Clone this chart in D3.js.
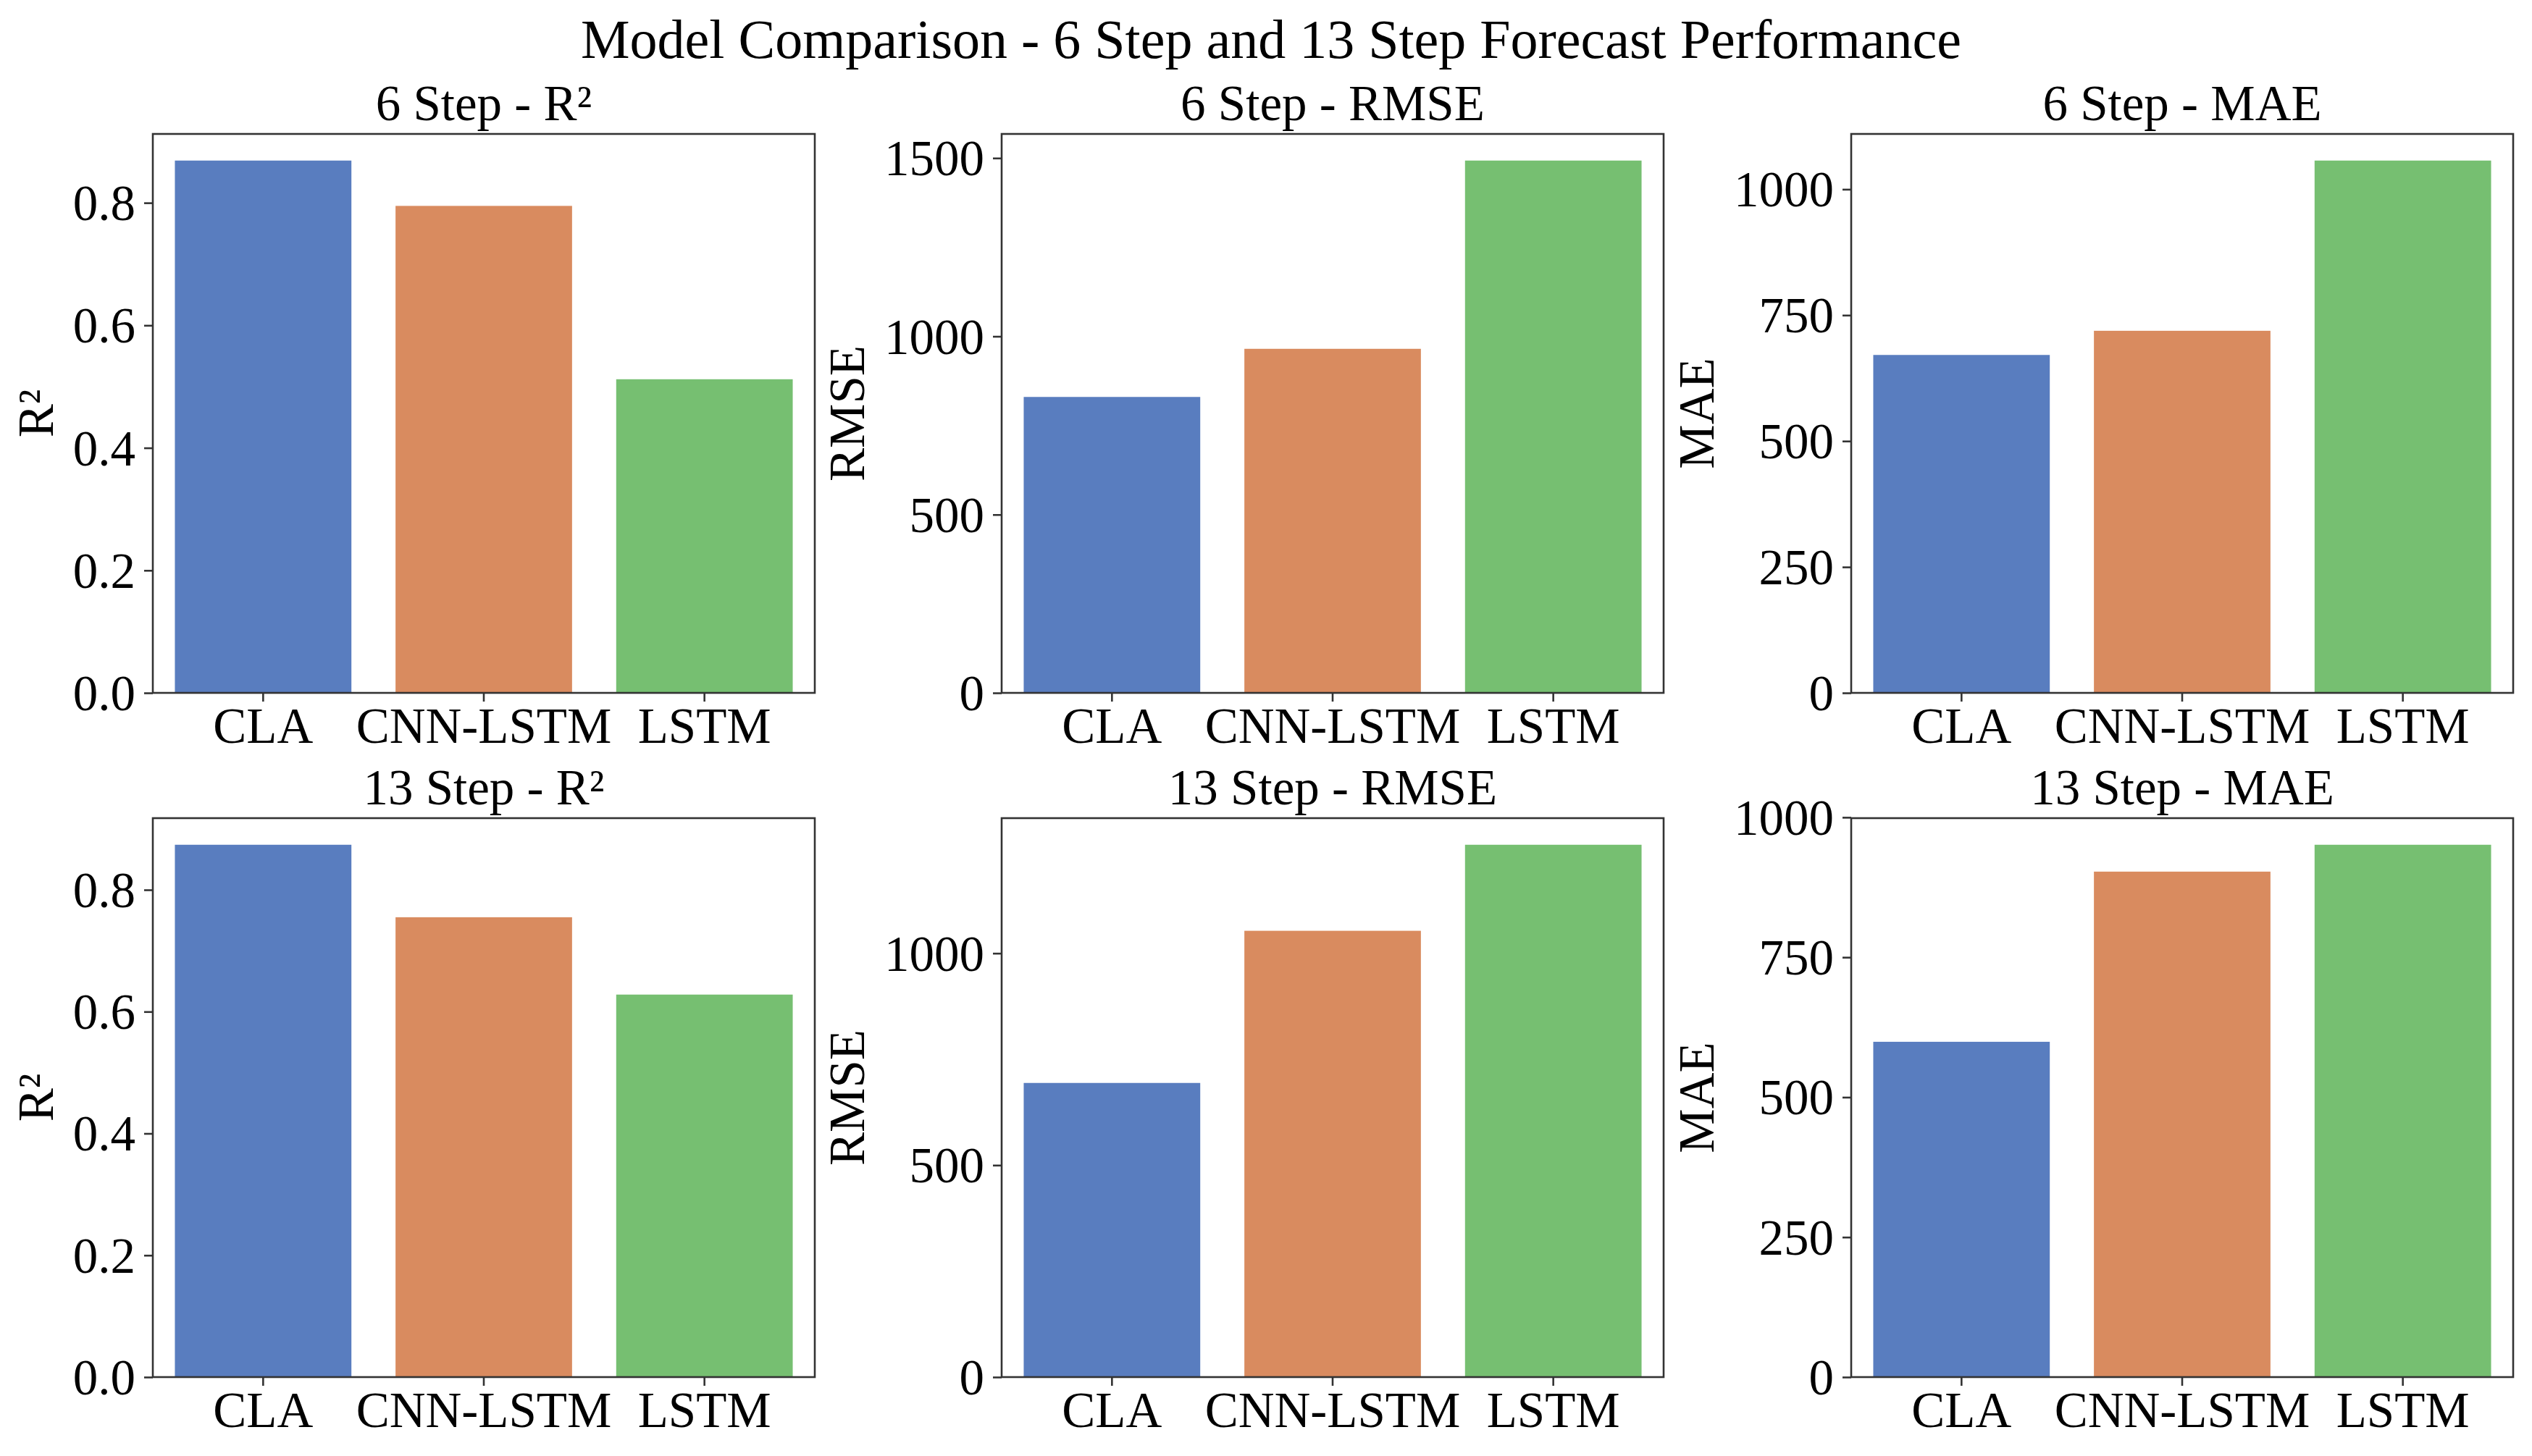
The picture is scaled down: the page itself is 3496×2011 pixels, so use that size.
<!DOCTYPE html>
<html lang="en">
<head>
<meta charset="UTF-8">
<title>Model Comparison</title>
<script src="https://cdn.jsdelivr.net/npm/d3@7"></script>
<style>
  body { margin: 0; background: #fff; }
  text { font-family: "Liberation Serif", "Times New Roman", serif; fill: #000; }
</style>
</head>
<body>
<script>
// data
var models = ["CLA", "CNN-LSTM", "LSTM"];
var r2_6 = [0.869, 0.795, 0.512];
var rmse_6 = [830, 965, 1493];
var mae_6 = [671, 719, 1057];
var r2_13 = [0.874, 0.755, 0.628];
var rmse_13 = [694, 1053, 1256];
var mae_13 = [599, 903, 951];

var r2Ticks = [0, 0.2, 0.4, 0.6, 0.8];
var rmse6Ticks = [0, 500, 1000, 1500];
var rmse13Ticks = [0, 500, 1000];
var maeTicks = [0, 250, 500, 750, 1000];

var colors = ["#597dbf", "#d98b5f", "#76bf71"];

var W = 3496, H = 2011;
var svg = d3.select("body").append("svg").attr("width", W).attr("height", H);

var colX = [211, 1383, 2556], pw = 914;
var rowY = [185, 1130], ph = 772;

var panels = [
  {title: "6 Step - R\u00b2", label: "R\u00b2", vals: r2_6, ticks: r2Ticks, fmt: d3.format(".1f")},
  {title: "6 Step - RMSE", label: "RMSE", vals: rmse_6, ticks: rmse6Ticks, fmt: d3.format("d")},
  {title: "6 Step - MAE", label: "MAE", vals: mae_6, ticks: maeTicks, fmt: d3.format("d")},
  {title: "13 Step - R\u00b2", label: "R\u00b2", vals: r2_13, ticks: r2Ticks, fmt: d3.format(".1f")},
  {title: "13 Step - RMSE", label: "RMSE", vals: rmse_13, ticks: rmse13Ticks, fmt: d3.format("d")},
  {title: "13 Step - MAE", label: "MAE", vals: mae_13, ticks: maeTicks, fmt: d3.format("d")}
];

svg.append("text")
  .attr("x", 1755).attr("y", 80)
  .attr("text-anchor", "middle")
  .attr("font-size", 76)
  .text("Model Comparison - 6 Step and 13 Step Forecast Performance");

panels.forEach(function (p, i) {
  var left = colX[i % 3], top = rowY[Math.floor(i / 3)];
  var g = svg.append("g").attr("transform", "translate(" + left + "," + top + ")");

  var x = d3.scaleBand().domain(models).range([0, pw]).paddingInner(0.2).paddingOuter(0.1);
  var y = d3.scaleLinear().domain([0, d3.max(p.vals) * 1.05]).range([ph, 0]);

  g.selectAll("rect.bar").data(p.vals).enter().append("rect")
    .attr("class", "bar")
    .attr("x", function (d, j) { return x(models[j]); })
    .attr("y", function (d) { return y(d); })
    .attr("width", x.bandwidth())
    .attr("height", function (d) { return ph - y(d); })
    .attr("fill", function (d, j) { return colors[j]; });

  // y axis
  var ya = g.append("g").call(d3.axisLeft(y).tickValues(p.ticks).tickFormat(p.fmt).tickSize(12).tickPadding(12));
  ya.select(".domain").remove();
  ya.selectAll("line").attr("stroke", "#333").attr("stroke-width", 2.6);
  ya.selectAll("text").attr("font-size", 69).attr("font-family", null).attr("dy", "0.34em");

  // x axis
  var xa = g.append("g").attr("transform", "translate(0," + ph + ")")
    .call(d3.axisBottom(x).tickSize(12).tickPadding(8));
  xa.select(".domain").remove();
  xa.selectAll("line").attr("stroke", "#333").attr("stroke-width", 2.6);
  xa.selectAll("text").attr("font-size", 69).attr("font-family", null).attr("dy", "0.71em");

  // frame
  g.append("rect").attr("width", pw).attr("height", ph)
    .attr("fill", "none").attr("stroke", "#333").attr("stroke-width", 2.6);

  g.append("text").attr("x", pw / 2).attr("y", -19)
    .attr("text-anchor", "middle").attr("font-size", 69).text(p.title);

  var minX = ya.node().getBBox().x;
  g.append("text")
    .attr("transform", "translate(" + (minX - 28) + "," + (ph / 2) + ") rotate(-90)")
    .attr("text-anchor", "middle").attr("font-size", 69).text(p.label);
});
</script>
</body>
</html>
